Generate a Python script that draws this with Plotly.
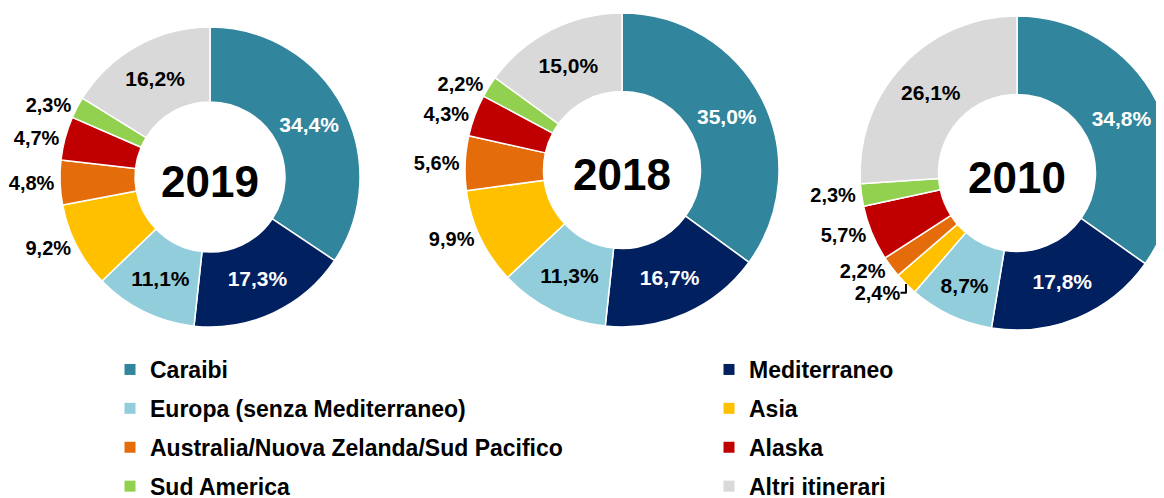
import plotly.graph_objects as go

categories = ["Caraibi", "Mediterraneo", "Europa (senza Mediterraneo)", "Asia",
              "Australia/Nuova Zelanda/Sud Pacifico", "Alaska", "Sud America", "Altri itinerari"]
colors = ["#31859C", "#002060", "#92CDDC", "#FFC000", "#E46C0A", "#C00000", "#92D050", "#D9D9D9"]
text_colors = ["white", "white", "black", "black", "black", "black", "black", "black"]

years = ["2019", "2018", "2010"]
values_2019 = [34.4, 17.3, 11.1, 9.2, 4.8, 4.7, 2.3, 16.2]
values_2018 = [35.0, 16.7, 11.3, 9.9, 5.6, 4.3, 2.2, 15.0]
values_2010 = [34.8, 17.8, 8.7, 2.4, 2.2, 5.7, 2.3, 26.1]
positions_2019 = ["inside", "inside", "inside", "outside", "outside", "outside", "outside", "inside"]
positions_2018 = ["inside", "inside", "inside", "outside", "outside", "outside", "outside", "inside"]
positions_2010 = ["inside", "inside", "inside", "outside", "outside", "outside", "outside", "inside"]

legend_col1 = ["Caraibi", "Europa (senza Mediterraneo)", "Australia/Nuova Zelanda/Sud Pacifico", "Sud America"]
legend_col2 = ["Mediterraneo", "Asia", "Alaska", "Altri itinerari"]

# the page body adds an 8px offset; figure coords below are screen coords minus 8
W, H = 1180, 500
# pie boxes in figure pixels: (left, top, right, bottom)
boxes = [(52, 19, 352, 319), (457, 5, 771, 319), (852, 8, 1166, 322)]

LABEL_FONT = "Liberation Sans, Arial, sans-serif"

def fmt(v):
    return f"{v:.1f}%".replace(".", ",")

fig = go.Figure()
for year, vals, pos, box in zip(years, [values_2019, values_2018, values_2010],
                                [positions_2019, positions_2018, positions_2010], boxes):
    l, t, r, b = box
    fig.add_trace(go.Pie(
        labels=categories, values=vals, sort=False, direction="clockwise", rotation=0,
        hole=0.5,
        marker=dict(colors=colors, line=dict(color="white", width=1.5)),
        text=[fmt(v) for v in vals], textinfo="text", textposition=pos,
        insidetextorientation="horizontal",
        textfont=dict(family=LABEL_FONT, size=21, color=text_colors, weight="bold"),
        outsidetextfont=dict(family=LABEL_FONT, size=20, color=text_colors, weight="bold"),
        title=dict(text=year, position="middle center",
                   font=dict(family=LABEL_FONT, size=44, color="black", weight="bold")),
        domain=dict(x=[l / W, r / W], y=[1 - b / H, 1 - t / H]),
        showlegend=False, hoverinfo="label+percent",
    ))

for col, legend_id in [(legend_col1, "legend"), (legend_col2, "legend2")]:
    for name in col:
        fig.add_trace(go.Scatter(
            x=[None], y=[None], mode="markers", name=name, legendgroup=name,
            marker=dict(symbol="square", size=11, color=colors[categories.index(name)]),
            legend=legend_id, showlegend=True,
        ))

legend_style = dict(orientation="v", yanchor="top", xanchor="left", tracegroupgap=6,
                    bgcolor="rgba(0,0,0,0)",
                    font=dict(family=LABEL_FONT, size=23, color="black", weight="bold"))
fig.update_layout(
    width=W, height=H, margin=dict(l=0, r=0, t=0, b=0, autoexpand=False),
    paper_bgcolor="white", plot_bgcolor="white",
    xaxis=dict(visible=False), yaxis=dict(visible=False),
    legend=dict(x=102 / W, y=1 - 340 / H, **legend_style),
    legend2=dict(x=701 / W, y=1 - 340 / H, **legend_style),
)
fig.write_html("out.html")
